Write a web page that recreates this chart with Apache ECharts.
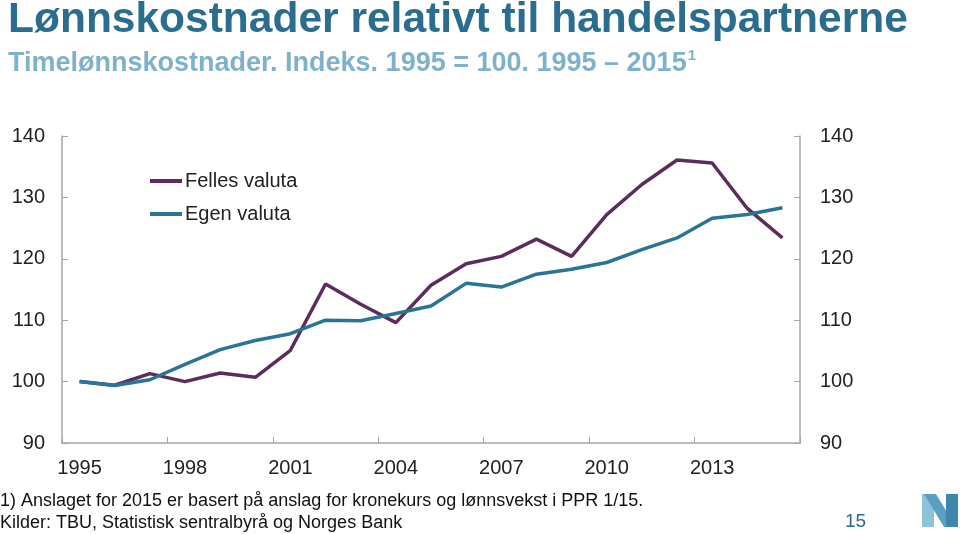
<!DOCTYPE html>
<html><head><meta charset="utf-8">
<script src="https://cdn.jsdelivr.net/npm/echarts@6/dist/echarts.min.js"></script>
<style>html,body{margin:0;padding:0;background:#fff}#c{width:960px;height:534px}</style>
</head><body><div id="c"></div>
<script>
var years = ['1995','1996','1997','1998','1999','2000','2001','2002','2003','2004','2005','2006','2007','2008','2009','2010','2011','2012','2013','2014','2015'];
var fellesValuta = [100,99.4,101.3,100,101.4,100.7,105.1,115.9,112.6,109.6,115.7,119.2,120.4,123.2,120.4,127.2,132.1,136.1,135.6,128.2,123.4];
var egenValuta = [100,99.35,100.3,102.8,105.2,106.7,107.8,110.0,109.9,111.1,112.3,116.0,115.4,117.5,118.3,119.4,121.5,123.4,126.6,127.2,128.3];
var yTicks = [90,100,110,120,130,140];

var chart = echarts.init(document.getElementById('c'));
var ff = 'Liberation Sans, Arial, sans-serif';
var axisLine = {show:true, lineStyle:{color:'#a6a6a6', width:1.5}};
var yAxisBase = {
  type:'value', min:yTicks[0], max:yTicks[yTicks.length-1], interval:10,
  splitLine:{show:false}, axisLine:axisLine,
  axisTick:{show:true, inside:true, length:6, lineStyle:{color:'#a6a6a6'}},
  axisLabel:{color:'#222', fontSize:20, fontFamily:ff}
};
chart.setOption({
  animation:false,
  title:[
    {text:'Lønnskostnader relativt til handelspartnerne', left:8, top:-1, padding:0,
     textStyle:{color:'#2b6d8e', fontSize:42.5, fontWeight:'bold', fontFamily:ff}},
    {text:'{a|Timelønnskostnader. Indeks. 1995 = 100. 1995 – 2015}{s|1}', left:8, top:48, padding:0,
     textStyle:{fontWeight:'bold', rich:{a:{color:'#7fb1ca', fontSize:27, fontWeight:'bold', fontFamily:ff, verticalAlign:'bottom'},
                      s:{color:'#7fb1ca', fontSize:15, fontWeight:'bold', fontFamily:ff, verticalAlign:'top', padding:[0,0,14,1]}}}},
    {text:'1) Anslaget for 2015 er basert på anslag for kronekurs og lønnsvekst i PPR 1/15.', left:0, top:492, padding:0,
     textStyle:{color:'#111', fontSize:18, fontWeight:'normal', fontFamily:ff}},
    {text:'Kilder: TBU, Statistisk sentralbyrå og Norges Bank', left:0, top:514, padding:0,
     textStyle:{color:'#111', fontSize:18, fontWeight:'normal', fontFamily:ff}},
    {text:'15', left:845, top:512, padding:0, textStyle:{color:'#2b6d8e', fontSize:19, fontWeight:'normal', fontFamily:ff}}
  ],
  grid:{left:62, right:160, top:136, bottom:91},
  legend:{
    orient:'vertical', left:150, top:171, padding:0, itemWidth:32, itemHeight:4, itemGap:13,
    icon:'rect',
    textStyle:{color:'#222', fontSize:20, fontFamily:ff, padding:[0,0,0,-2]},
    data:['Felles valuta','Egen valuta']
  },
  xAxis:{
    type:'category', data:years, boundaryGap:true,
    axisLine:axisLine,
    axisTick:{show:true, inside:true, length:6, interval:2, lineStyle:{color:'#a6a6a6'}},
    axisLabel:{interval:2, color:'#222', fontSize:20, fontFamily:ff, margin:15}
  },
  yAxis:[
    Object.assign({}, yAxisBase, {position:'left', axisLabel:Object.assign({}, yAxisBase.axisLabel, {margin:17})}),
    Object.assign({}, yAxisBase, {position:'right', axisLabel:Object.assign({}, yAxisBase.axisLabel, {margin:20})})
  ],
  series:[
    {name:'Felles valuta', type:'line', data:fellesValuta, showSymbol:false, symbol:'none',
     lineStyle:{color:'#5b2c5d', width:3.5}, itemStyle:{color:'#5b2c5d'}},
    {name:'Egen valuta', type:'line', data:egenValuta, showSymbol:false, symbol:'none',
     lineStyle:{color:'#2a7596', width:3.5}, itemStyle:{color:'#2a7596'}}
  ],
  graphic:[
    {type:'polygon', shape:{points:[[922,494],[934,494],[934,527],[922,527]]}, style:{fill:'#8fc3dc'}},
    {type:'polygon', shape:{points:[[924,494],[936,494],[956,527],[944,527]]}, style:{fill:'#5a9fc2'}},
    {type:'polygon', shape:{points:[[946,494],[958,494],[958,527],[946,527]]}, style:{fill:'#3f86ad'}}
  ]
});
</script></body></html>
